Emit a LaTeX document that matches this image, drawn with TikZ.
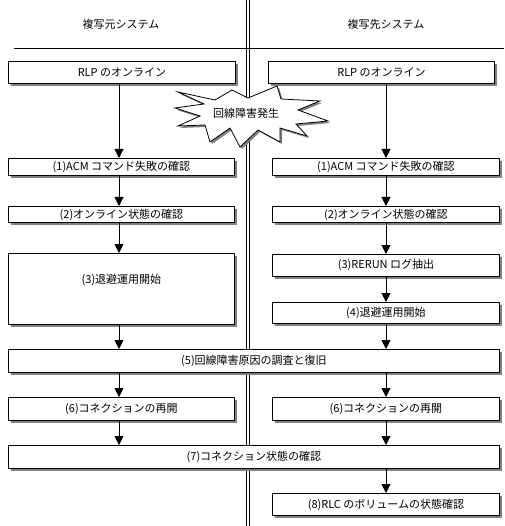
\documentclass[tikz,border=0pt]{standalone}
\usepackage{fontspec}
\setmainfont{Noto Sans CJK JP}
\usetikzlibrary{arrows.meta,shadows,calc}
\begin{document}
\begin{tikzpicture}[x=1pt,y=-1pt,
  box/.style={draw=black, fill=white, line width=0.9pt, inner sep=0pt, anchor=north west,
    font=\fontsize{11}{13}\selectfont,
    general shadow={fill=black!50, shadow xshift=3pt, shadow yshift=-3pt}},
  arr/.style={line width=0.9pt, -{Triangle[width=9pt,length=9pt]}},
  hdr/.style={font=\fontsize{11}{13}\selectfont}]
\useasboundingbox (0,0) rectangle (504,526);
% frame lines
\draw[line width=0.9pt] (14,48) -- (504,48);
\draw[line width=0.9pt] (246,0) -- (246,526);
\draw[line width=0.9pt] (249,0) -- (249,526);
% headers
\node[hdr] (hl) at (121,24) {複写元システム};
\node[hdr] (hr) at (386,24) {複写先システム};
% columns
\coordinate (cl) at (119,0);
\coordinate (cr) at (386,0);
% boxes
\node[box, minimum width=227pt, minimum height=22pt] (LR) at (8,61) {RLP のオンライン};
\node[box, minimum width=226pt, minimum height=22pt] (RR) at (268,61) {RLP のオンライン};
\node[box, minimum width=226pt, minimum height=17pt] (L1) at (8,158) {(1)ACM コマンド失敗の確認};
\node[box, minimum width=227pt, minimum height=17pt] (R1) at (272,158) {(1)ACM コマンド失敗の確認};
\node[box, minimum width=226pt, minimum height=16pt] (L2) at (8,206) {(2)オンライン状態の確認};
\node[box, minimum width=227pt, minimum height=16pt] (R2) at (272,206) {(2)オンライン状態の確認};
\node[box, minimum width=226pt, minimum height=71pt, text height=30pt, text depth=41pt] (L3) at (8,253) {(3)退避運用開始};
\node[box, minimum width=227pt, minimum height=22pt] (R3) at (272,254) {(3)RERUN ログ抽出};
\node[box, minimum width=227pt, minimum height=21pt] (R4) at (272,302) {(4)退避運用開始};
\node[box, minimum width=491pt, minimum height=23pt] (B5) at (8,349) {(5)回線障害原因の調査と復旧};
\node[box, minimum width=226pt, minimum height=23pt] (L6) at (8,397) {(6)コネクションの再開};
\node[box, minimum width=227pt, minimum height=23pt] (R6) at (272,397) {(6)コネクションの再開};
\node[box, minimum width=491pt, minimum height=23pt] (B7) at (8,445) {(7)コネクション状態の確認};
\node[box, minimum width=227pt, minimum height=22pt] (R8) at (272,493) {(8)RLC のボリュームの状態確認};
% arrows left
\draw[arr] (LR.south -| cl) -- (L1.north -| cl);
\draw[arr] (L1.south -| cl) -- (L2.north -| cl);
\draw[arr] (L2.south -| cl) -- (L3.north -| cl);
\draw[arr] (L3.south -| cl) -- (B5.north -| cl);
\draw[arr] (B5.south -| cl) -- (L6.north -| cl);
\draw[arr] (L6.south -| cl) -- (B7.north -| cl);
% arrows right
\draw[arr] (RR.south -| cr) -- (R1.north -| cr);
\draw[arr] (R1.south -| cr) -- (R2.north -| cr);
\draw[arr] (R2.south -| cr) -- (R3.north -| cr);
\draw[arr] (R3.south -| cr) -- (R4.north -| cr);
\draw[arr] (R4.south -| cr) -- (B5.north -| cr);
\draw[arr] (B5.south -| cr) -- (R6.north -| cr);
\draw[arr] (R6.south -| cr) -- (B7.north -| cr);
\draw[arr] (B7.south -| cr) -- (R8.north -| cr);
% starburst
\fill[black!50, shift={(2,2)}] (178,92) -- (215,100) -- (232,90) -- (248,98) -- (277,86) -- (281,99) -- (320,101) -- (298,110) -- (328,121) -- (296,124) -- (307,136) -- (280,128) -- (280,142) -- (258,130) -- (240,147) -- (230,128) -- (210,142) -- (205,125) -- (178,126) -- (200,116) -- (175,108) -- (204,104) -- cycle;
\draw[fill=white, line width=0.8pt] (178,92) -- (215,100) -- (232,90) -- (248,98) -- (277,86) -- (281,99) -- (320,101) -- (298,110) -- (328,121) -- (296,124) -- (307,136) -- (280,128) -- (280,142) -- (258,130) -- (240,147) -- (230,128) -- (210,142) -- (205,125) -- (178,126) -- (200,116) -- (175,108) -- (204,104) -- cycle;
\node[hdr] (fault) at (246,113) {回線障害発生};
\end{tikzpicture}
\end{document}
